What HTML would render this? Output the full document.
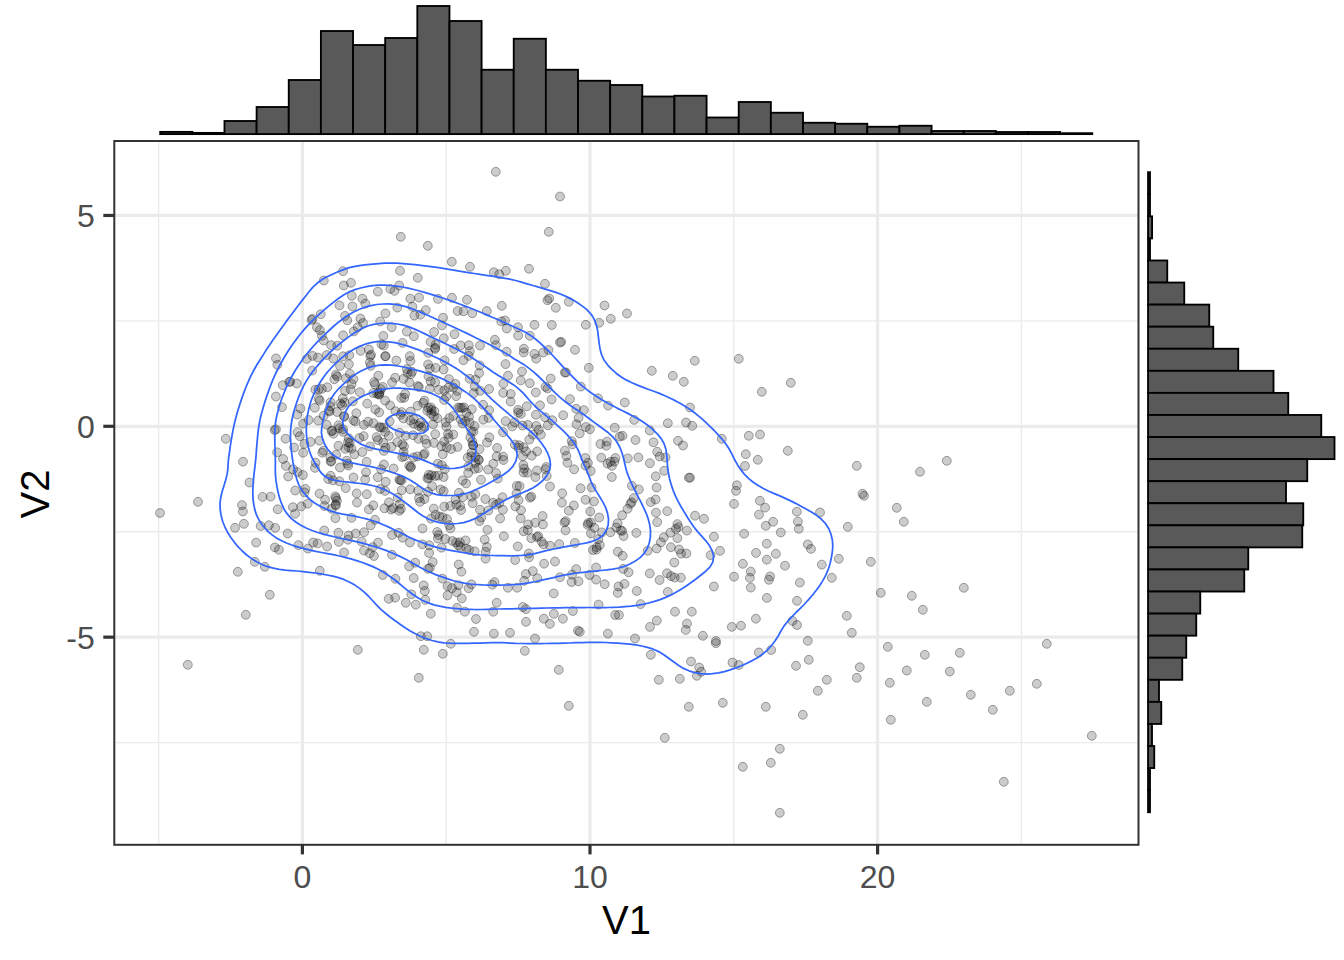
<!DOCTYPE html>
<html><head><meta charset="utf-8"><title>V1 vs V2</title>
<style>html,body{margin:0;padding:0;background:#fff}svg{display:block}text{font-family:"Liberation Sans",Arial,sans-serif}</style></head><body>
<svg width="1344" height="960" viewBox="0 0 1344 960">
<rect width="1344" height="960" fill="#fff"/>
<g stroke="#ebebeb" stroke-width="1.4" fill="none">
<line x1="158.60" x2="158.60" y1="141.0" y2="844.8"/>
<line x1="446.20" x2="446.20" y1="141.0" y2="844.8"/>
<line x1="733.80" x2="733.80" y1="141.0" y2="844.8"/>
<line x1="1021.40" x2="1021.40" y1="141.0" y2="844.8"/>
<line y1="320.88" y2="320.88" x1="114.3" x2="1138.5"/>
<line y1="531.73" y2="531.73" x1="114.3" x2="1138.5"/>
<line y1="742.58" y2="742.58" x1="114.3" x2="1138.5"/>
</g>
<g stroke="#ebebeb" stroke-width="3.2" fill="none">
<line x1="302.40" x2="302.40" y1="141.0" y2="844.8"/>
<line x1="590.00" x2="590.00" y1="141.0" y2="844.8"/>
<line x1="877.60" x2="877.60" y1="141.0" y2="844.8"/>
<line y1="215.45" y2="215.45" x1="114.3" x2="1138.5"/>
<line y1="426.30" y2="426.30" x1="114.3" x2="1138.5"/>
<line y1="637.15" y2="637.15" x1="114.3" x2="1138.5"/>
</g>
<g fill="#000" fill-opacity="0.2" stroke="#000" stroke-opacity="0.33" stroke-width="1">
<circle cx="327.1" cy="546.5" r="4.45"/>
<circle cx="590.3" cy="511.5" r="4.45"/>
<circle cx="357.7" cy="327.3" r="4.45"/>
<circle cx="383.8" cy="450.9" r="4.45"/>
<circle cx="736.0" cy="490.8" r="4.45"/>
<circle cx="473.1" cy="445.3" r="4.45"/>
<circle cx="485.6" cy="558.7" r="4.45"/>
<circle cx="304.5" cy="492.4" r="4.45"/>
<circle cx="922.8" cy="609.8" r="4.45"/>
<circle cx="671.1" cy="576.1" r="4.45"/>
<circle cx="534.4" cy="353.9" r="4.45"/>
<circle cx="362.3" cy="452.0" r="4.45"/>
<circle cx="235.0" cy="527.8" r="4.45"/>
<circle cx="475.3" cy="462.9" r="4.45"/>
<circle cx="398.6" cy="532.8" r="4.45"/>
<circle cx="335.8" cy="505.5" r="4.45"/>
<circle cx="351.5" cy="448.7" r="4.45"/>
<circle cx="713.9" cy="586.5" r="4.45"/>
<circle cx="496.7" cy="602.8" r="4.45"/>
<circle cx="324.5" cy="506.0" r="4.45"/>
<circle cx="636.8" cy="591.0" r="4.45"/>
<circle cx="368.0" cy="421.7" r="4.45"/>
<circle cx="427.2" cy="636.2" r="4.45"/>
<circle cx="562.2" cy="493.3" r="4.45"/>
<circle cx="622.1" cy="515.3" r="4.45"/>
<circle cx="458.7" cy="564.5" r="4.45"/>
<circle cx="312.6" cy="355.9" r="4.45"/>
<circle cx="469.7" cy="378.8" r="4.45"/>
<circle cx="363.7" cy="436.1" r="4.45"/>
<circle cx="364.0" cy="550.6" r="4.45"/>
<circle cx="851.8" cy="632.8" r="4.45"/>
<circle cx="797.9" cy="521.6" r="4.45"/>
<circle cx="536.9" cy="537.0" r="4.45"/>
<circle cx="1003.8" cy="781.8" r="4.45"/>
<circle cx="555.8" cy="307.8" r="4.45"/>
<circle cx="348.8" cy="438.4" r="4.45"/>
<circle cx="412.4" cy="306.7" r="4.45"/>
<circle cx="649.9" cy="463.2" r="4.45"/>
<circle cx="424.9" cy="439.4" r="4.45"/>
<circle cx="400.3" cy="480.2" r="4.45"/>
<circle cx="326.8" cy="355.0" r="4.45"/>
<circle cx="442.5" cy="517.3" r="4.45"/>
<circle cx="456.1" cy="542.5" r="4.45"/>
<circle cx="313.2" cy="542.5" r="4.45"/>
<circle cx="354.4" cy="454.4" r="4.45"/>
<circle cx="409.9" cy="542.5" r="4.45"/>
<circle cx="456.1" cy="396.2" r="4.45"/>
<circle cx="344.0" cy="416.0" r="4.45"/>
<circle cx="352.8" cy="401.3" r="4.45"/>
<circle cx="683.0" cy="445.5" r="4.45"/>
<circle cx="285.5" cy="438.7" r="4.45"/>
<circle cx="428.1" cy="364.4" r="4.45"/>
<circle cx="896.8" cy="507.8" r="4.45"/>
<circle cx="402.3" cy="444.4" r="4.45"/>
<circle cx="446.2" cy="396.6" r="4.45"/>
<circle cx="337.0" cy="412.0" r="4.45"/>
<circle cx="887.8" cy="646.8" r="4.45"/>
<circle cx="426.6" cy="443.8" r="4.45"/>
<circle cx="474.6" cy="468.9" r="4.45"/>
<circle cx="450.5" cy="528.4" r="4.45"/>
<circle cx="611.8" cy="477.0" r="4.45"/>
<circle cx="377.8" cy="291.6" r="4.45"/>
<circle cx="575.0" cy="349.8" r="4.45"/>
<circle cx="304.3" cy="443.9" r="4.45"/>
<circle cx="744.1" cy="533.7" r="4.45"/>
<circle cx="237.8" cy="571.8" r="4.45"/>
<circle cx="449.2" cy="525.1" r="4.45"/>
<circle cx="699.2" cy="667.5" r="4.45"/>
<circle cx="488.1" cy="469.6" r="4.45"/>
<circle cx="348.9" cy="364.3" r="4.45"/>
<circle cx="423.7" cy="585.4" r="4.45"/>
<circle cx="692.2" cy="425.8" r="4.45"/>
<circle cx="667.8" cy="591.9" r="4.45"/>
<circle cx="342.1" cy="405.2" r="4.45"/>
<circle cx="585.7" cy="427.0" r="4.45"/>
<circle cx="427.8" cy="245.8" r="4.45"/>
<circle cx="523.5" cy="472.4" r="4.45"/>
<circle cx="574.1" cy="469.3" r="4.45"/>
<circle cx="686.0" cy="422.5" r="4.45"/>
<circle cx="472.3" cy="313.3" r="4.45"/>
<circle cx="429.9" cy="567.9" r="4.45"/>
<circle cx="323.6" cy="415.8" r="4.45"/>
<circle cx="413.9" cy="336.2" r="4.45"/>
<circle cx="543.5" cy="544.4" r="4.45"/>
<circle cx="686.3" cy="553.5" r="4.45"/>
<circle cx="454.5" cy="334.2" r="4.45"/>
<circle cx="679.1" cy="549.5" r="4.45"/>
<circle cx="604.5" cy="305.5" r="4.45"/>
<circle cx="546.7" cy="476.0" r="4.45"/>
<circle cx="433.9" cy="416.3" r="4.45"/>
<circle cx="455.5" cy="499.5" r="4.45"/>
<circle cx="359.9" cy="392.2" r="4.45"/>
<circle cx="501.8" cy="305.8" r="4.45"/>
<circle cx="518.3" cy="447.8" r="4.45"/>
<circle cx="663.8" cy="537.3" r="4.45"/>
<circle cx="565.5" cy="530.4" r="4.45"/>
<circle cx="649.8" cy="573.4" r="4.45"/>
<circle cx="276.0" cy="429.4" r="4.45"/>
<circle cx="303.1" cy="423.6" r="4.45"/>
<circle cx="392.1" cy="535.0" r="4.45"/>
<circle cx="442.4" cy="578.6" r="4.45"/>
<circle cx="468.8" cy="345.3" r="4.45"/>
<circle cx="339.5" cy="481.3" r="4.45"/>
<circle cx="428.5" cy="376.2" r="4.45"/>
<circle cx="653.5" cy="442.3" r="4.45"/>
<circle cx="458.9" cy="492.8" r="4.45"/>
<circle cx="949.8" cy="671.5" r="4.45"/>
<circle cx="399.8" cy="504.3" r="4.45"/>
<circle cx="418.9" cy="387.0" r="4.45"/>
<circle cx="319.9" cy="330.1" r="4.45"/>
<circle cx="578.5" cy="581.3" r="4.45"/>
<circle cx="457.0" cy="607.8" r="4.45"/>
<circle cx="799.9" cy="582.6" r="4.45"/>
<circle cx="736.9" cy="485.3" r="4.45"/>
<circle cx="374.1" cy="382.1" r="4.45"/>
<circle cx="459.9" cy="542.3" r="4.45"/>
<circle cx="433.9" cy="442.9" r="4.45"/>
<circle cx="421.6" cy="427.6" r="4.45"/>
<circle cx="410.7" cy="411.5" r="4.45"/>
<circle cx="403.6" cy="451.9" r="4.45"/>
<circle cx="864.0" cy="495.8" r="4.45"/>
<circle cx="585.3" cy="458.0" r="4.45"/>
<circle cx="401.3" cy="398.0" r="4.45"/>
<circle cx="360.6" cy="350.9" r="4.45"/>
<circle cx="523.3" cy="465.1" r="4.45"/>
<circle cx="318.2" cy="420.6" r="4.45"/>
<circle cx="468.7" cy="355.9" r="4.45"/>
<circle cx="299.8" cy="436.2" r="4.45"/>
<circle cx="496.7" cy="456.3" r="4.45"/>
<circle cx="493.8" cy="272.2" r="4.45"/>
<circle cx="373.3" cy="393.1" r="4.45"/>
<circle cx="425.8" cy="310.1" r="4.45"/>
<circle cx="859.8" cy="667.2" r="4.45"/>
<circle cx="474.8" cy="386.5" r="4.45"/>
<circle cx="578.0" cy="630.6" r="4.45"/>
<circle cx="503.2" cy="392.9" r="4.45"/>
<circle cx="437.2" cy="532.0" r="4.45"/>
<circle cx="731.8" cy="626.9" r="4.45"/>
<circle cx="423.8" cy="649.8" r="4.45"/>
<circle cx="797.0" cy="625.0" r="4.45"/>
<circle cx="373.4" cy="423.2" r="4.45"/>
<circle cx="559.2" cy="544.1" r="4.45"/>
<circle cx="678.0" cy="440.8" r="4.45"/>
<circle cx="478.9" cy="460.0" r="4.45"/>
<circle cx="529.8" cy="383.2" r="4.45"/>
<circle cx="550.0" cy="545.7" r="4.45"/>
<circle cx="409.8" cy="356.1" r="4.45"/>
<circle cx="526.0" cy="621.8" r="4.45"/>
<circle cx="553.9" cy="613.9" r="4.45"/>
<circle cx="590.9" cy="522.6" r="4.45"/>
<circle cx="529.9" cy="497.7" r="4.45"/>
<circle cx="672.8" cy="375.8" r="4.45"/>
<circle cx="435.6" cy="514.8" r="4.45"/>
<circle cx="926.8" cy="701.8" r="4.45"/>
<circle cx="368.9" cy="509.4" r="4.45"/>
<circle cx="471.8" cy="409.3" r="4.45"/>
<circle cx="807.8" cy="544.4" r="4.45"/>
<circle cx="489.4" cy="437.3" r="4.45"/>
<circle cx="924.8" cy="654.8" r="4.45"/>
<circle cx="410.3" cy="298.7" r="4.45"/>
<circle cx="677.4" cy="538.1" r="4.45"/>
<circle cx="607.5" cy="463.6" r="4.45"/>
<circle cx="481.2" cy="517.6" r="4.45"/>
<circle cx="761.8" cy="391.8" r="4.45"/>
<circle cx="523.7" cy="352.4" r="4.45"/>
<circle cx="323.4" cy="450.7" r="4.45"/>
<circle cx="460.2" cy="505.9" r="4.45"/>
<circle cx="333.5" cy="433.7" r="4.45"/>
<circle cx="323.8" cy="280.5" r="4.45"/>
<circle cx="430.8" cy="613.7" r="4.45"/>
<circle cx="518.6" cy="500.2" r="4.45"/>
<circle cx="379.7" cy="392.5" r="4.45"/>
<circle cx="503.4" cy="460.0" r="4.45"/>
<circle cx="325.1" cy="499.7" r="4.45"/>
<circle cx="576.5" cy="424.3" r="4.45"/>
<circle cx="748.8" cy="435.8" r="4.45"/>
<circle cx="434.1" cy="332.0" r="4.45"/>
<circle cx="702.9" cy="635.8" r="4.45"/>
<circle cx="545.0" cy="283.8" r="4.45"/>
<circle cx="425.3" cy="599.9" r="4.45"/>
<circle cx="572.5" cy="444.4" r="4.45"/>
<circle cx="821.8" cy="564.6" r="4.45"/>
<circle cx="380.2" cy="489.0" r="4.45"/>
<circle cx="333.1" cy="480.4" r="4.45"/>
<circle cx="351.8" cy="295.8" r="4.45"/>
<circle cx="323.7" cy="340.5" r="4.45"/>
<circle cx="650.8" cy="654.8" r="4.45"/>
<circle cx="344.1" cy="552.4" r="4.45"/>
<circle cx="545.6" cy="469.1" r="4.45"/>
<circle cx="428.3" cy="408.0" r="4.45"/>
<circle cx="417.4" cy="456.4" r="4.45"/>
<circle cx="970.8" cy="694.8" r="4.45"/>
<circle cx="742.8" cy="766.8" r="4.45"/>
<circle cx="522.0" cy="371.5" r="4.45"/>
<circle cx="242.9" cy="511.5" r="4.45"/>
<circle cx="409.2" cy="465.9" r="4.45"/>
<circle cx="328.8" cy="410.6" r="4.45"/>
<circle cx="523.9" cy="348.7" r="4.45"/>
<circle cx="336.9" cy="500.8" r="4.45"/>
<circle cx="715.9" cy="643.2" r="4.45"/>
<circle cx="420.0" cy="423.0" r="4.45"/>
<circle cx="820.0" cy="512.5" r="4.45"/>
<circle cx="690.1" cy="477.7" r="4.45"/>
<circle cx="505.6" cy="421.1" r="4.45"/>
<circle cx="623.1" cy="568.9" r="4.45"/>
<circle cx="431.6" cy="409.9" r="4.45"/>
<circle cx="343.0" cy="429.3" r="4.45"/>
<circle cx="460.7" cy="419.4" r="4.45"/>
<circle cx="561.9" cy="502.7" r="4.45"/>
<circle cx="606.3" cy="445.7" r="4.45"/>
<circle cx="463.5" cy="311.3" r="4.45"/>
<circle cx="403.5" cy="378.9" r="4.45"/>
<circle cx="678.4" cy="527.1" r="4.45"/>
<circle cx="438.2" cy="475.6" r="4.45"/>
<circle cx="588.3" cy="523.0" r="4.45"/>
<circle cx="537.3" cy="578.3" r="4.45"/>
<circle cx="294.1" cy="447.5" r="4.45"/>
<circle cx="667.2" cy="511.1" r="4.45"/>
<circle cx="349.7" cy="443.0" r="4.45"/>
<circle cx="460.7" cy="345.4" r="4.45"/>
<circle cx="452.4" cy="541.0" r="4.45"/>
<circle cx="225.8" cy="438.8" r="4.45"/>
<circle cx="665.5" cy="457.5" r="4.45"/>
<circle cx="357.8" cy="649.8" r="4.45"/>
<circle cx="479.1" cy="373.1" r="4.45"/>
<circle cx="315.3" cy="389.7" r="4.45"/>
<circle cx="506.8" cy="328.5" r="4.45"/>
<circle cx="563.2" cy="415.2" r="4.45"/>
<circle cx="365.3" cy="303.7" r="4.45"/>
<circle cx="518.0" cy="327.2" r="4.45"/>
<circle cx="391.4" cy="446.8" r="4.45"/>
<circle cx="260.7" cy="526.0" r="4.45"/>
<circle cx="518.3" cy="412.6" r="4.45"/>
<circle cx="412.0" cy="371.8" r="4.45"/>
<circle cx="617.6" cy="523.3" r="4.45"/>
<circle cx="527.8" cy="530.0" r="4.45"/>
<circle cx="392.1" cy="382.3" r="4.45"/>
<circle cx="297.2" cy="414.6" r="4.45"/>
<circle cx="674.3" cy="562.5" r="4.45"/>
<circle cx="367.2" cy="403.6" r="4.45"/>
<circle cx="441.5" cy="547.7" r="4.45"/>
<circle cx="670.3" cy="532.7" r="4.45"/>
<circle cx="402.6" cy="537.7" r="4.45"/>
<circle cx="593.0" cy="550.0" r="4.45"/>
<circle cx="807.8" cy="640.8" r="4.45"/>
<circle cx="318.6" cy="389.4" r="4.45"/>
<circle cx="615.2" cy="615.0" r="4.45"/>
<circle cx="456.3" cy="504.7" r="4.45"/>
<circle cx="292.9" cy="507.2" r="4.45"/>
<circle cx="469.7" cy="422.6" r="4.45"/>
<circle cx="579.8" cy="631.8" r="4.45"/>
<circle cx="657.2" cy="451.8" r="4.45"/>
<circle cx="339.4" cy="428.1" r="4.45"/>
<circle cx="543.2" cy="352.5" r="4.45"/>
<circle cx="345.0" cy="315.9" r="4.45"/>
<circle cx="450.4" cy="506.0" r="4.45"/>
<circle cx="406.8" cy="331.6" r="4.45"/>
<circle cx="431.4" cy="475.2" r="4.45"/>
<circle cx="633.8" cy="498.1" r="4.45"/>
<circle cx="568.8" cy="510.7" r="4.45"/>
<circle cx="579.7" cy="433.5" r="4.45"/>
<circle cx="460.5" cy="547.0" r="4.45"/>
<circle cx="528.1" cy="524.4" r="4.45"/>
<circle cx="667.0" cy="573.3" r="4.45"/>
<circle cx="549.9" cy="623.9" r="4.45"/>
<circle cx="428.0" cy="491.8" r="4.45"/>
<circle cx="756.0" cy="552.9" r="4.45"/>
<circle cx="466.2" cy="548.5" r="4.45"/>
<circle cx="495.8" cy="171.8" r="4.45"/>
<circle cx="600.4" cy="444.0" r="4.45"/>
<circle cx="378.3" cy="375.7" r="4.45"/>
<circle cx="363.0" cy="323.0" r="4.45"/>
<circle cx="720.0" cy="550.8" r="4.45"/>
<circle cx="363.9" cy="424.9" r="4.45"/>
<circle cx="514.8" cy="422.3" r="4.45"/>
<circle cx="330.6" cy="402.3" r="4.45"/>
<circle cx="496.1" cy="473.0" r="4.45"/>
<circle cx="992.8" cy="709.8" r="4.45"/>
<circle cx="571.6" cy="582.0" r="4.45"/>
<circle cx="636.3" cy="532.9" r="4.45"/>
<circle cx="470.0" cy="266.8" r="4.45"/>
<circle cx="383.9" cy="464.5" r="4.45"/>
<circle cx="366.6" cy="461.8" r="4.45"/>
<circle cx="1046.8" cy="643.8" r="4.45"/>
<circle cx="537.0" cy="470.5" r="4.45"/>
<circle cx="448.4" cy="387.6" r="4.45"/>
<circle cx="350.6" cy="389.4" r="4.45"/>
<circle cx="564.9" cy="450.6" r="4.45"/>
<circle cx="889.8" cy="682.8" r="4.45"/>
<circle cx="796.9" cy="511.7" r="4.45"/>
<circle cx="488.6" cy="417.9" r="4.45"/>
<circle cx="572.9" cy="611.0" r="4.45"/>
<circle cx="338.5" cy="425.3" r="4.45"/>
<circle cx="330.7" cy="475.8" r="4.45"/>
<circle cx="420.0" cy="501.9" r="4.45"/>
<circle cx="353.4" cy="379.1" r="4.45"/>
<circle cx="458.2" cy="545.3" r="4.45"/>
<circle cx="548.5" cy="350.0" r="4.45"/>
<circle cx="567.4" cy="462.8" r="4.45"/>
<circle cx="462.0" cy="407.9" r="4.45"/>
<circle cx="558.8" cy="669.8" r="4.45"/>
<circle cx="649.8" cy="430.5" r="4.45"/>
<circle cx="378.9" cy="394.0" r="4.45"/>
<circle cx="527.2" cy="472.7" r="4.45"/>
<circle cx="546.3" cy="467.0" r="4.45"/>
<circle cx="547.5" cy="300.2" r="4.45"/>
<circle cx="610.8" cy="318.8" r="4.45"/>
<circle cx="503.8" cy="536.2" r="4.45"/>
<circle cx="308.6" cy="420.0" r="4.45"/>
<circle cx="566.4" cy="456.0" r="4.45"/>
<circle cx="342.8" cy="398.3" r="4.45"/>
<circle cx="245.8" cy="614.8" r="4.45"/>
<circle cx="560.0" cy="577.2" r="4.45"/>
<circle cx="520.7" cy="380.4" r="4.45"/>
<circle cx="353.5" cy="420.4" r="4.45"/>
<circle cx="551.8" cy="325.0" r="4.45"/>
<circle cx="667.8" cy="423.2" r="4.45"/>
<circle cx="243.0" cy="461.7" r="4.45"/>
<circle cx="429.3" cy="545.3" r="4.45"/>
<circle cx="734.0" cy="503.9" r="4.45"/>
<circle cx="470.3" cy="437.4" r="4.45"/>
<circle cx="349.3" cy="355.2" r="4.45"/>
<circle cx="458.1" cy="407.6" r="4.45"/>
<circle cx="856.8" cy="677.8" r="4.45"/>
<circle cx="450.8" cy="643.8" r="4.45"/>
<circle cx="453.2" cy="434.5" r="4.45"/>
<circle cx="410.4" cy="361.0" r="4.45"/>
<circle cx="383.4" cy="427.7" r="4.45"/>
<circle cx="521.0" cy="510.2" r="4.45"/>
<circle cx="415.8" cy="604.7" r="4.45"/>
<circle cx="438.8" cy="389.8" r="4.45"/>
<circle cx="379.2" cy="412.4" r="4.45"/>
<circle cx="616.3" cy="527.5" r="4.45"/>
<circle cx="687.0" cy="623.6" r="4.45"/>
<circle cx="429.1" cy="553.0" r="4.45"/>
<circle cx="656.7" cy="548.5" r="4.45"/>
<circle cx="330.7" cy="461.7" r="4.45"/>
<circle cx="445.3" cy="539.0" r="4.45"/>
<circle cx="277.7" cy="509.3" r="4.45"/>
<circle cx="540.9" cy="434.7" r="4.45"/>
<circle cx="346.7" cy="460.7" r="4.45"/>
<circle cx="808.8" cy="659.8" r="4.45"/>
<circle cx="385.6" cy="356.2" r="4.45"/>
<circle cx="560.0" cy="342.5" r="4.45"/>
<circle cx="447.5" cy="586.2" r="4.45"/>
<circle cx="457.7" cy="311.0" r="4.45"/>
<circle cx="385.1" cy="490.9" r="4.45"/>
<circle cx="383.8" cy="345.5" r="4.45"/>
<circle cx="467.7" cy="457.6" r="4.45"/>
<circle cx="297.5" cy="432.2" r="4.45"/>
<circle cx="685.8" cy="629.9" r="4.45"/>
<circle cx="543.8" cy="618.7" r="4.45"/>
<circle cx="428.2" cy="352.9" r="4.45"/>
<circle cx="741.0" cy="625.7" r="4.45"/>
<circle cx="638.4" cy="457.4" r="4.45"/>
<circle cx="580.8" cy="386.6" r="4.45"/>
<circle cx="452.0" cy="588.1" r="4.45"/>
<circle cx="430.6" cy="341.9" r="4.45"/>
<circle cx="502.5" cy="497.2" r="4.45"/>
<circle cx="302.9" cy="475.0" r="4.45"/>
<circle cx="460.0" cy="407.7" r="4.45"/>
<circle cx="679.8" cy="678.8" r="4.45"/>
<circle cx="489.1" cy="410.2" r="4.45"/>
<circle cx="656.8" cy="620.6" r="4.45"/>
<circle cx="541.6" cy="541.6" r="4.45"/>
<circle cx="348.3" cy="465.6" r="4.45"/>
<circle cx="533.0" cy="434.6" r="4.45"/>
<circle cx="826.8" cy="679.8" r="4.45"/>
<circle cx="831.8" cy="577.8" r="4.45"/>
<circle cx="343.1" cy="356.3" r="4.45"/>
<circle cx="347.9" cy="539.7" r="4.45"/>
<circle cx="627.6" cy="508.8" r="4.45"/>
<circle cx="382.7" cy="386.9" r="4.45"/>
<circle cx="722.8" cy="702.8" r="4.45"/>
<circle cx="474.7" cy="551.3" r="4.45"/>
<circle cx="353.8" cy="331.4" r="4.45"/>
<circle cx="439.6" cy="516.6" r="4.45"/>
<circle cx="392.0" cy="554.8" r="4.45"/>
<circle cx="249.4" cy="482.5" r="4.45"/>
<circle cx="274.9" cy="547.4" r="4.45"/>
<circle cx="492.3" cy="584.7" r="4.45"/>
<circle cx="480.1" cy="390.8" r="4.45"/>
<circle cx="701.2" cy="671.8" r="4.45"/>
<circle cx="635.0" cy="638.5" r="4.45"/>
<circle cx="427.4" cy="478.4" r="4.45"/>
<circle cx="659.7" cy="456.5" r="4.45"/>
<circle cx="419.0" cy="498.0" r="4.45"/>
<circle cx="580.6" cy="488.3" r="4.45"/>
<circle cx="301.3" cy="506.4" r="4.45"/>
<circle cx="423.2" cy="402.9" r="4.45"/>
<circle cx="564.8" cy="372.5" r="4.45"/>
<circle cx="506.7" cy="351.7" r="4.45"/>
<circle cx="448.9" cy="379.1" r="4.45"/>
<circle cx="371.0" cy="354.7" r="4.45"/>
<circle cx="402.6" cy="342.9" r="4.45"/>
<circle cx="631.6" cy="502.2" r="4.45"/>
<circle cx="765.1" cy="507.6" r="4.45"/>
<circle cx="397.7" cy="497.7" r="4.45"/>
<circle cx="336.0" cy="498.3" r="4.45"/>
<circle cx="444.1" cy="441.6" r="4.45"/>
<circle cx="300.5" cy="408.6" r="4.45"/>
<circle cx="347.3" cy="320.3" r="4.45"/>
<circle cx="631.9" cy="485.8" r="4.45"/>
<circle cx="486.8" cy="311.0" r="4.45"/>
<circle cx="351.0" cy="282.8" r="4.45"/>
<circle cx="430.7" cy="381.4" r="4.45"/>
<circle cx="336.2" cy="454.7" r="4.45"/>
<circle cx="598.4" cy="539.2" r="4.45"/>
<circle cx="464.0" cy="407.4" r="4.45"/>
<circle cx="479.7" cy="365.4" r="4.45"/>
<circle cx="657.2" cy="522.1" r="4.45"/>
<circle cx="385.5" cy="447.7" r="4.45"/>
<circle cx="501.3" cy="321.4" r="4.45"/>
<circle cx="779.8" cy="812.8" r="4.45"/>
<circle cx="400.8" cy="236.8" r="4.45"/>
<circle cx="444.1" cy="399.9" r="4.45"/>
<circle cx="452.0" cy="297.8" r="4.45"/>
<circle cx="880.8" cy="592.8" r="4.45"/>
<circle cx="610.5" cy="461.8" r="4.45"/>
<circle cx="617.8" cy="551.7" r="4.45"/>
<circle cx="410.6" cy="467.6" r="4.45"/>
<circle cx="437.8" cy="463.7" r="4.45"/>
<circle cx="297.4" cy="472.1" r="4.45"/>
<circle cx="624.8" cy="402.5" r="4.45"/>
<circle cx="500.1" cy="518.5" r="4.45"/>
<circle cx="375.0" cy="519.8" r="4.45"/>
<circle cx="404.2" cy="397.8" r="4.45"/>
<circle cx="596.6" cy="547.2" r="4.45"/>
<circle cx="443.6" cy="477.0" r="4.45"/>
<circle cx="802.8" cy="714.8" r="4.45"/>
<circle cx="528.8" cy="553.5" r="4.45"/>
<circle cx="479.5" cy="521.1" r="4.45"/>
<circle cx="488.3" cy="510.5" r="4.45"/>
<circle cx="331.7" cy="508.9" r="4.45"/>
<circle cx="424.8" cy="591.0" r="4.45"/>
<circle cx="480.0" cy="345.6" r="4.45"/>
<circle cx="773.1" cy="521.8" r="4.45"/>
<circle cx="463.5" cy="360.2" r="4.45"/>
<circle cx="517.8" cy="546.4" r="4.45"/>
<circle cx="441.4" cy="446.2" r="4.45"/>
<circle cx="599.8" cy="545.1" r="4.45"/>
<circle cx="587.6" cy="524.8" r="4.45"/>
<circle cx="779.8" cy="748.8" r="4.45"/>
<circle cx="331.3" cy="461.1" r="4.45"/>
<circle cx="390.1" cy="405.4" r="4.45"/>
<circle cx="755.9" cy="618.7" r="4.45"/>
<circle cx="630.4" cy="503.9" r="4.45"/>
<circle cx="536.2" cy="425.9" r="4.45"/>
<circle cx="576.2" cy="408.8" r="4.45"/>
<circle cx="395.4" cy="411.2" r="4.45"/>
<circle cx="555.0" cy="561.5" r="4.45"/>
<circle cx="343.1" cy="335.3" r="4.45"/>
<circle cx="522.7" cy="456.3" r="4.45"/>
<circle cx="383.4" cy="335.9" r="4.45"/>
<circle cx="366.0" cy="472.2" r="4.45"/>
<circle cx="594.4" cy="527.8" r="4.45"/>
<circle cx="335.3" cy="496.4" r="4.45"/>
<circle cx="656.0" cy="512.6" r="4.45"/>
<circle cx="920.0" cy="471.8" r="4.45"/>
<circle cx="547.5" cy="388.4" r="4.45"/>
<circle cx="561.2" cy="341.8" r="4.45"/>
<circle cx="534.5" cy="324.8" r="4.45"/>
<circle cx="290.3" cy="381.6" r="4.45"/>
<circle cx="424.4" cy="400.7" r="4.45"/>
<circle cx="502.9" cy="509.8" r="4.45"/>
<circle cx="516.8" cy="485.9" r="4.45"/>
<circle cx="696.8" cy="675.8" r="4.45"/>
<circle cx="351.5" cy="517.9" r="4.45"/>
<circle cx="395.4" cy="578.8" r="4.45"/>
<circle cx="242.0" cy="505.1" r="4.45"/>
<circle cx="413.1" cy="435.2" r="4.45"/>
<circle cx="385.1" cy="431.9" r="4.45"/>
<circle cx="596.1" cy="567.5" r="4.45"/>
<circle cx="475.5" cy="379.6" r="4.45"/>
<circle cx="401.7" cy="412.1" r="4.45"/>
<circle cx="451.1" cy="449.0" r="4.45"/>
<circle cx="520.8" cy="413.9" r="4.45"/>
<circle cx="296.8" cy="383.5" r="4.45"/>
<circle cx="348.6" cy="535.5" r="4.45"/>
<circle cx="531.3" cy="496.6" r="4.45"/>
<circle cx="535.9" cy="414.8" r="4.45"/>
<circle cx="410.2" cy="420.6" r="4.45"/>
<circle cx="307.9" cy="548.6" r="4.45"/>
<circle cx="527.9" cy="424.9" r="4.45"/>
<circle cx="599.2" cy="322.8" r="4.45"/>
<circle cx="589.9" cy="429.2" r="4.45"/>
<circle cx="640.6" cy="604.1" r="4.45"/>
<circle cx="638.8" cy="489.4" r="4.45"/>
<circle cx="413.7" cy="419.2" r="4.45"/>
<circle cx="484.7" cy="539.6" r="4.45"/>
<circle cx="483.1" cy="404.8" r="4.45"/>
<circle cx="622.7" cy="555.8" r="4.45"/>
<circle cx="526.1" cy="451.5" r="4.45"/>
<circle cx="333.3" cy="358.5" r="4.45"/>
<circle cx="287.7" cy="533.5" r="4.45"/>
<circle cx="385.1" cy="400.6" r="4.45"/>
<circle cx="441.9" cy="325.4" r="4.45"/>
<circle cx="380.8" cy="389.1" r="4.45"/>
<circle cx="959.8" cy="652.8" r="4.45"/>
<circle cx="243.9" cy="523.8" r="4.45"/>
<circle cx="576.2" cy="569.1" r="4.45"/>
<circle cx="481.0" cy="479.8" r="4.45"/>
<circle cx="356.3" cy="413.2" r="4.45"/>
<circle cx="474.5" cy="426.0" r="4.45"/>
<circle cx="472.7" cy="503.2" r="4.45"/>
<circle cx="535.8" cy="392.4" r="4.45"/>
<circle cx="547.8" cy="425.3" r="4.45"/>
<circle cx="523.7" cy="531.3" r="4.45"/>
<circle cx="305.4" cy="488.9" r="4.45"/>
<circle cx="343.1" cy="431.8" r="4.45"/>
<circle cx="414.4" cy="315.5" r="4.45"/>
<circle cx="529.3" cy="439.6" r="4.45"/>
<circle cx="545.1" cy="417.3" r="4.45"/>
<circle cx="449.3" cy="418.1" r="4.45"/>
<circle cx="483.3" cy="419.7" r="4.45"/>
<circle cx="256.1" cy="542.6" r="4.45"/>
<circle cx="303.1" cy="452.7" r="4.45"/>
<circle cx="388.8" cy="435.9" r="4.45"/>
<circle cx="410.9" cy="374.2" r="4.45"/>
<circle cx="647.7" cy="550.8" r="4.45"/>
<circle cx="322.3" cy="452.7" r="4.45"/>
<circle cx="544.1" cy="563.7" r="4.45"/>
<circle cx="568.8" cy="705.8" r="4.45"/>
<circle cx="614.4" cy="461.6" r="4.45"/>
<circle cx="315.0" cy="467.9" r="4.45"/>
<circle cx="480.0" cy="509.8" r="4.45"/>
<circle cx="319.5" cy="493.6" r="4.45"/>
<circle cx="438.0" cy="298.9" r="4.45"/>
<circle cx="683.8" cy="381.8" r="4.45"/>
<circle cx="440.6" cy="489.5" r="4.45"/>
<circle cx="419.0" cy="297.5" r="4.45"/>
<circle cx="738.8" cy="665.0" r="4.45"/>
<circle cx="254.8" cy="561.8" r="4.45"/>
<circle cx="289.3" cy="382.0" r="4.45"/>
<circle cx="311.6" cy="320.0" r="4.45"/>
<circle cx="686.9" cy="530.6" r="4.45"/>
<circle cx="606.9" cy="441.6" r="4.45"/>
<circle cx="675.0" cy="611.7" r="4.45"/>
<circle cx="401.6" cy="480.3" r="4.45"/>
<circle cx="870.8" cy="561.8" r="4.45"/>
<circle cx="624.5" cy="583.9" r="4.45"/>
<circle cx="428.8" cy="474.8" r="4.45"/>
<circle cx="372.6" cy="547.1" r="4.45"/>
<circle cx="680.9" cy="577.7" r="4.45"/>
<circle cx="771.2" cy="650.0" r="4.45"/>
<circle cx="510.7" cy="394.0" r="4.45"/>
<circle cx="758.8" cy="652.5" r="4.45"/>
<circle cx="485.6" cy="551.8" r="4.45"/>
<circle cx="357.0" cy="502.6" r="4.45"/>
<circle cx="407.6" cy="373.0" r="4.45"/>
<circle cx="339.5" cy="305.4" r="4.45"/>
<circle cx="792.5" cy="620.9" r="4.45"/>
<circle cx="368.9" cy="349.5" r="4.45"/>
<circle cx="471.3" cy="456.2" r="4.45"/>
<circle cx="468.6" cy="588.2" r="4.45"/>
<circle cx="618.9" cy="615.0" r="4.45"/>
<circle cx="443.0" cy="317.7" r="4.45"/>
<circle cx="395.2" cy="377.7" r="4.45"/>
<circle cx="438.7" cy="535.0" r="4.45"/>
<circle cx="601.3" cy="457.6" r="4.45"/>
<circle cx="695.0" cy="515.7" r="4.45"/>
<circle cx="380.2" cy="321.5" r="4.45"/>
<circle cx="343.8" cy="285.5" r="4.45"/>
<circle cx="551.6" cy="399.5" r="4.45"/>
<circle cx="443.6" cy="369.5" r="4.45"/>
<circle cx="1036.8" cy="683.8" r="4.45"/>
<circle cx="526.0" cy="609.1" r="4.45"/>
<circle cx="318.7" cy="398.9" r="4.45"/>
<circle cx="396.3" cy="360.5" r="4.45"/>
<circle cx="566.0" cy="372.5" r="4.45"/>
<circle cx="447.5" cy="595.4" r="4.45"/>
<circle cx="444.6" cy="360.4" r="4.45"/>
<circle cx="620.7" cy="530.5" r="4.45"/>
<circle cx="529.0" cy="268.8" r="4.45"/>
<circle cx="787.8" cy="450.8" r="4.45"/>
<circle cx="448.6" cy="437.8" r="4.45"/>
<circle cx="494.5" cy="582.1" r="4.45"/>
<circle cx="759.0" cy="514.6" r="4.45"/>
<circle cx="469.0" cy="549.9" r="4.45"/>
<circle cx="435.7" cy="367.9" r="4.45"/>
<circle cx="332.3" cy="430.8" r="4.45"/>
<circle cx="466.0" cy="483.5" r="4.45"/>
<circle cx="503.1" cy="456.6" r="4.45"/>
<circle cx="585.5" cy="499.8" r="4.45"/>
<circle cx="277.1" cy="452.3" r="4.45"/>
<circle cx="471.6" cy="496.8" r="4.45"/>
<circle cx="417.6" cy="405.8" r="4.45"/>
<circle cx="319.8" cy="570.8" r="4.45"/>
<circle cx="585.5" cy="465.7" r="4.45"/>
<circle cx="390.3" cy="288.9" r="4.45"/>
<circle cx="604.7" cy="584.2" r="4.45"/>
<circle cx="356.7" cy="493.4" r="4.45"/>
<circle cx="399.2" cy="285.5" r="4.45"/>
<circle cx="405.8" cy="602.8" r="4.45"/>
<circle cx="507.9" cy="587.7" r="4.45"/>
<circle cx="362.4" cy="298.7" r="4.45"/>
<circle cx="493.1" cy="502.7" r="4.45"/>
<circle cx="617.8" cy="592.9" r="4.45"/>
<circle cx="475.5" cy="457.0" r="4.45"/>
<circle cx="520.7" cy="518.4" r="4.45"/>
<circle cx="393.2" cy="508.1" r="4.45"/>
<circle cx="335.6" cy="504.5" r="4.45"/>
<circle cx="364.1" cy="532.2" r="4.45"/>
<circle cx="479.4" cy="449.1" r="4.45"/>
<circle cx="911.8" cy="595.8" r="4.45"/>
<circle cx="486.8" cy="547.0" r="4.45"/>
<circle cx="391.7" cy="327.2" r="4.45"/>
<circle cx="583.8" cy="410.1" r="4.45"/>
<circle cx="589.5" cy="575.0" r="4.45"/>
<circle cx="340.0" cy="467.5" r="4.45"/>
<circle cx="359.4" cy="438.0" r="4.45"/>
<circle cx="306.8" cy="358.9" r="4.45"/>
<circle cx="535.2" cy="522.7" r="4.45"/>
<circle cx="331.1" cy="345.2" r="4.45"/>
<circle cx="688.8" cy="706.8" r="4.45"/>
<circle cx="383.3" cy="442.7" r="4.45"/>
<circle cx="742.9" cy="563.8" r="4.45"/>
<circle cx="433.8" cy="508.6" r="4.45"/>
<circle cx="397.3" cy="442.1" r="4.45"/>
<circle cx="611.9" cy="465.9" r="4.45"/>
<circle cx="385.7" cy="481.8" r="4.45"/>
<circle cx="670.9" cy="547.2" r="4.45"/>
<circle cx="417.8" cy="277.8" r="4.45"/>
<circle cx="327.3" cy="387.3" r="4.45"/>
<circle cx="664.2" cy="470.8" r="4.45"/>
<circle cx="277.4" cy="364.8" r="4.45"/>
<circle cx="508.0" cy="375.7" r="4.45"/>
<circle cx="524.8" cy="650.8" r="4.45"/>
<circle cx="340.3" cy="403.5" r="4.45"/>
<circle cx="847.8" cy="526.8" r="4.45"/>
<circle cx="295.2" cy="490.5" r="4.45"/>
<circle cx="478.2" cy="468.1" r="4.45"/>
<circle cx="391.1" cy="509.6" r="4.45"/>
<circle cx="424.7" cy="453.4" r="4.45"/>
<circle cx="393.6" cy="468.5" r="4.45"/>
<circle cx="389.6" cy="421.3" r="4.45"/>
<circle cx="487.0" cy="442.6" r="4.45"/>
<circle cx="328.2" cy="479.0" r="4.45"/>
<circle cx="518.1" cy="335.6" r="4.45"/>
<circle cx="519.6" cy="486.1" r="4.45"/>
<circle cx="336.0" cy="374.6" r="4.45"/>
<circle cx="349.9" cy="373.9" r="4.45"/>
<circle cx="444.3" cy="390.3" r="4.45"/>
<circle cx="656.6" cy="487.5" r="4.45"/>
<circle cx="389.0" cy="502.3" r="4.45"/>
<circle cx="447.0" cy="519.1" r="4.45"/>
<circle cx="409.1" cy="566.3" r="4.45"/>
<circle cx="321.9" cy="335.8" r="4.45"/>
<circle cx="458.4" cy="585.2" r="4.45"/>
<circle cx="601.9" cy="532.4" r="4.45"/>
<circle cx="464.9" cy="611.7" r="4.45"/>
<circle cx="474.0" cy="631.8" r="4.45"/>
<circle cx="312.5" cy="318.8" r="4.45"/>
<circle cx="765.8" cy="706.8" r="4.45"/>
<circle cx="838.8" cy="558.8" r="4.45"/>
<circle cx="1009.8" cy="690.8" r="4.45"/>
<circle cx="750.8" cy="587.6" r="4.45"/>
<circle cx="552.3" cy="420.2" r="4.45"/>
<circle cx="525.9" cy="574.0" r="4.45"/>
<circle cx="578.6" cy="417.9" r="4.45"/>
<circle cx="307.7" cy="503.7" r="4.45"/>
<circle cx="310.6" cy="441.9" r="4.45"/>
<circle cx="674.7" cy="577.6" r="4.45"/>
<circle cx="187.8" cy="664.8" r="4.45"/>
<circle cx="517.2" cy="587.7" r="4.45"/>
<circle cx="780.8" cy="532.5" r="4.45"/>
<circle cx="430.8" cy="407.4" r="4.45"/>
<circle cx="351.6" cy="384.0" r="4.45"/>
<circle cx="529.8" cy="335.8" r="4.45"/>
<circle cx="377.9" cy="440.1" r="4.45"/>
<circle cx="505.5" cy="364.1" r="4.45"/>
<circle cx="596.6" cy="549.6" r="4.45"/>
<circle cx="278.9" cy="549.7" r="4.45"/>
<circle cx="424.5" cy="499.0" r="4.45"/>
<circle cx="435.1" cy="347.8" r="4.45"/>
<circle cx="330.3" cy="406.3" r="4.45"/>
<circle cx="514.8" cy="444.6" r="4.45"/>
<circle cx="454.2" cy="349.0" r="4.45"/>
<circle cx="531.3" cy="538.2" r="4.45"/>
<circle cx="660.9" cy="542.3" r="4.45"/>
<circle cx="515.3" cy="506.4" r="4.45"/>
<circle cx="432.7" cy="562.0" r="4.45"/>
<circle cx="618.5" cy="586.5" r="4.45"/>
<circle cx="444.9" cy="469.2" r="4.45"/>
<circle cx="420.8" cy="636.2" r="4.45"/>
<circle cx="413.9" cy="423.9" r="4.45"/>
<circle cx="715.9" cy="641.0" r="4.45"/>
<circle cx="524.2" cy="580.8" r="4.45"/>
<circle cx="596.1" cy="579.6" r="4.45"/>
<circle cx="413.5" cy="457.4" r="4.45"/>
<circle cx="573.9" cy="505.4" r="4.45"/>
<circle cx="442.8" cy="653.8" r="4.45"/>
<circle cx="345.0" cy="390.9" r="4.45"/>
<circle cx="688.9" cy="477.7" r="4.45"/>
<circle cx="453.3" cy="387.4" r="4.45"/>
<circle cx="524.1" cy="468.7" r="4.45"/>
<circle cx="453.3" cy="415.9" r="4.45"/>
<circle cx="627.8" cy="458.4" r="4.45"/>
<circle cx="510.0" cy="632.8" r="4.45"/>
<circle cx="274.6" cy="430.0" r="4.45"/>
<circle cx="542.9" cy="524.5" r="4.45"/>
<circle cx="713.9" cy="536.7" r="4.45"/>
<circle cx="472.3" cy="441.6" r="4.45"/>
<circle cx="903.8" cy="521.8" r="4.45"/>
<circle cx="564.5" cy="522.4" r="4.45"/>
<circle cx="499.2" cy="274.2" r="4.45"/>
<circle cx="505.0" cy="320.5" r="4.45"/>
<circle cx="360.4" cy="318.5" r="4.45"/>
<circle cx="370.0" cy="446.4" r="4.45"/>
<circle cx="515.1" cy="560.0" r="4.45"/>
<circle cx="382.8" cy="575.0" r="4.45"/>
<circle cx="550.0" cy="486.5" r="4.45"/>
<circle cx="406.8" cy="369.1" r="4.45"/>
<circle cx="658.8" cy="679.8" r="4.45"/>
<circle cx="599.2" cy="517.5" r="4.45"/>
<circle cx="369.9" cy="362.4" r="4.45"/>
<circle cx="846.8" cy="615.8" r="4.45"/>
<circle cx="798.8" cy="528.8" r="4.45"/>
<circle cx="585.8" cy="324.8" r="4.45"/>
<circle cx="340.0" cy="365.9" r="4.45"/>
<circle cx="796.0" cy="665.8" r="4.45"/>
<circle cx="415.2" cy="562.7" r="4.45"/>
<circle cx="293.1" cy="469.3" r="4.45"/>
<circle cx="677.4" cy="524.1" r="4.45"/>
<circle cx="429.8" cy="368.4" r="4.45"/>
<circle cx="402.2" cy="457.0" r="4.45"/>
<circle cx="468.2" cy="473.0" r="4.45"/>
<circle cx="319.7" cy="400.6" r="4.45"/>
<circle cx="471.4" cy="584.3" r="4.45"/>
<circle cx="381.1" cy="469.3" r="4.45"/>
<circle cx="522.5" cy="425.5" r="4.45"/>
<circle cx="766.8" cy="559.7" r="4.45"/>
<circle cx="526.8" cy="406.3" r="4.45"/>
<circle cx="462.5" cy="423.4" r="4.45"/>
<circle cx="587.9" cy="462.8" r="4.45"/>
<circle cx="285.9" cy="465.9" r="4.45"/>
<circle cx="766.8" cy="543.7" r="4.45"/>
<circle cx="283.1" cy="459.0" r="4.45"/>
<circle cx="565.7" cy="521.1" r="4.45"/>
<circle cx="497.8" cy="478.6" r="4.45"/>
<circle cx="423.5" cy="426.1" r="4.45"/>
<circle cx="262.6" cy="496.9" r="4.45"/>
<circle cx="572.0" cy="574.6" r="4.45"/>
<circle cx="395.1" cy="597.7" r="4.45"/>
<circle cx="366.8" cy="494.2" r="4.45"/>
<circle cx="946.8" cy="460.8" r="4.45"/>
<circle cx="276.0" cy="358.4" r="4.45"/>
<circle cx="314.8" cy="407.8" r="4.45"/>
<circle cx="651.8" cy="370.8" r="4.45"/>
<circle cx="785.0" cy="565.7" r="4.45"/>
<circle cx="738.8" cy="358.8" r="4.45"/>
<circle cx="434.4" cy="411.3" r="4.45"/>
<circle cx="523.6" cy="447.3" r="4.45"/>
<circle cx="659.6" cy="580.0" r="4.45"/>
<circle cx="473.5" cy="431.7" r="4.45"/>
<circle cx="443.7" cy="491.2" r="4.45"/>
<circle cx="397.3" cy="307.6" r="4.45"/>
<circle cx="198.0" cy="501.8" r="4.45"/>
<circle cx="420.4" cy="314.7" r="4.45"/>
<circle cx="691.8" cy="611.7" r="4.45"/>
<circle cx="405.1" cy="394.0" r="4.45"/>
<circle cx="345.9" cy="378.4" r="4.45"/>
<circle cx="545.5" cy="386.8" r="4.45"/>
<circle cx="385.2" cy="356.2" r="4.45"/>
<circle cx="690.0" cy="407.5" r="4.45"/>
<circle cx="400.0" cy="270.8" r="4.45"/>
<circle cx="331.5" cy="431.0" r="4.45"/>
<circle cx="437.4" cy="418.2" r="4.45"/>
<circle cx="469.8" cy="351.2" r="4.45"/>
<circle cx="538.2" cy="536.1" r="4.45"/>
<circle cx="570.0" cy="399.1" r="4.45"/>
<circle cx="312.2" cy="370.6" r="4.45"/>
<circle cx="369.8" cy="553.3" r="4.45"/>
<circle cx="353.5" cy="477.4" r="4.45"/>
<circle cx="381.5" cy="344.3" r="4.45"/>
<circle cx="411.0" cy="466.6" r="4.45"/>
<circle cx="355.7" cy="533.5" r="4.45"/>
<circle cx="681.1" cy="553.6" r="4.45"/>
<circle cx="399.3" cy="510.8" r="4.45"/>
<circle cx="388.7" cy="598.8" r="4.45"/>
<circle cx="493.2" cy="611.7" r="4.45"/>
<circle cx="890.8" cy="719.8" r="4.45"/>
<circle cx="495.9" cy="345.1" r="4.45"/>
<circle cx="298.4" cy="545.1" r="4.45"/>
<circle cx="766.9" cy="597.9" r="4.45"/>
<circle cx="615.4" cy="458.0" r="4.45"/>
<circle cx="343.0" cy="271.2" r="4.45"/>
<circle cx="275.2" cy="527.9" r="4.45"/>
<circle cx="352.4" cy="306.4" r="4.45"/>
<circle cx="435.6" cy="344.7" r="4.45"/>
<circle cx="591.6" cy="487.4" r="4.45"/>
<circle cx="594.0" cy="501.5" r="4.45"/>
<circle cx="627.0" cy="313.5" r="4.45"/>
<circle cx="518.0" cy="409.9" r="4.45"/>
<circle cx="694.8" cy="360.8" r="4.45"/>
<circle cx="664.8" cy="737.8" r="4.45"/>
<circle cx="1091.8" cy="735.8" r="4.45"/>
<circle cx="462.6" cy="480.4" r="4.45"/>
<circle cx="862.5" cy="493.8" r="4.45"/>
<circle cx="522.8" cy="607.0" r="4.45"/>
<circle cx="330.3" cy="457.3" r="4.45"/>
<circle cx="732.5" cy="662.5" r="4.45"/>
<circle cx="607.9" cy="633.6" r="4.45"/>
<circle cx="423.5" cy="455.0" r="4.45"/>
<circle cx="345.3" cy="448.9" r="4.45"/>
<circle cx="562.9" cy="618.7" r="4.45"/>
<circle cx="315.5" cy="462.7" r="4.45"/>
<circle cx="749.9" cy="577.9" r="4.45"/>
<circle cx="745.8" cy="454.2" r="4.45"/>
<circle cx="497.1" cy="447.9" r="4.45"/>
<circle cx="608.1" cy="405.6" r="4.45"/>
<circle cx="536.2" cy="358.7" r="4.45"/>
<circle cx="519.0" cy="445.2" r="4.45"/>
<circle cx="444.2" cy="506.6" r="4.45"/>
<circle cx="635.5" cy="440.0" r="4.45"/>
<circle cx="614.7" cy="427.7" r="4.45"/>
<circle cx="622.5" cy="435.8" r="4.45"/>
<circle cx="560.0" cy="196.5" r="4.45"/>
<circle cx="321.8" cy="388.9" r="4.45"/>
<circle cx="590.9" cy="533.4" r="4.45"/>
<circle cx="409.4" cy="382.6" r="4.45"/>
<circle cx="355.2" cy="421.4" r="4.45"/>
<circle cx="379.2" cy="394.7" r="4.45"/>
<circle cx="433.0" cy="424.3" r="4.45"/>
<circle cx="324.2" cy="530.5" r="4.45"/>
<circle cx="338.5" cy="445.8" r="4.45"/>
<circle cx="404.0" cy="446.3" r="4.45"/>
<circle cx="429.7" cy="388.8" r="4.45"/>
<circle cx="379.4" cy="427.1" r="4.45"/>
<circle cx="906.8" cy="670.5" r="4.45"/>
<circle cx="427.3" cy="410.7" r="4.45"/>
<circle cx="759.9" cy="500.8" r="4.45"/>
<circle cx="376.6" cy="437.1" r="4.45"/>
<circle cx="384.4" cy="508.3" r="4.45"/>
<circle cx="512.3" cy="426.4" r="4.45"/>
<circle cx="588.8" cy="367.8" r="4.45"/>
<circle cx="542.6" cy="516.0" r="4.45"/>
<circle cx="471.3" cy="431.5" r="4.45"/>
<circle cx="499.3" cy="503.0" r="4.45"/>
<circle cx="400.9" cy="508.8" r="4.45"/>
<circle cx="503.4" cy="383.7" r="4.45"/>
<circle cx="451.8" cy="261.8" r="4.45"/>
<circle cx="432.1" cy="486.2" r="4.45"/>
<circle cx="531.7" cy="455.7" r="4.45"/>
<circle cx="338.4" cy="532.8" r="4.45"/>
<circle cx="441.7" cy="465.2" r="4.45"/>
<circle cx="337.3" cy="345.7" r="4.45"/>
<circle cx="529.1" cy="557.3" r="4.45"/>
<circle cx="375.0" cy="384.3" r="4.45"/>
<circle cx="442.8" cy="454.2" r="4.45"/>
<circle cx="337.1" cy="376.5" r="4.45"/>
<circle cx="465.3" cy="421.4" r="4.45"/>
<circle cx="344.4" cy="402.4" r="4.45"/>
<circle cx="770.1" cy="576.4" r="4.45"/>
<circle cx="574.9" cy="543.0" r="4.45"/>
<circle cx="619.8" cy="436.5" r="4.45"/>
<circle cx="691.0" cy="661.5" r="4.45"/>
<circle cx="335.4" cy="518.2" r="4.45"/>
<circle cx="568.8" cy="301.8" r="4.45"/>
<circle cx="811.0" cy="548.9" r="4.45"/>
<circle cx="446.4" cy="426.7" r="4.45"/>
<circle cx="476.0" cy="619.0" r="4.45"/>
<circle cx="493.9" cy="633.6" r="4.45"/>
<circle cx="365.2" cy="479.4" r="4.45"/>
<circle cx="275.9" cy="396.5" r="4.45"/>
<circle cx="418.5" cy="438.9" r="4.45"/>
<circle cx="457.5" cy="446.9" r="4.45"/>
<circle cx="571.7" cy="441.1" r="4.45"/>
<circle cx="437.8" cy="538.5" r="4.45"/>
<circle cx="270.6" cy="496.6" r="4.45"/>
<circle cx="370.2" cy="356.1" r="4.45"/>
<circle cx="963.8" cy="587.8" r="4.45"/>
<circle cx="326.7" cy="424.7" r="4.45"/>
<circle cx="745.0" cy="466.0" r="4.45"/>
<circle cx="475.3" cy="494.2" r="4.45"/>
<circle cx="399.6" cy="432.7" r="4.45"/>
<circle cx="435.1" cy="382.3" r="4.45"/>
<circle cx="622.1" cy="530.9" r="4.45"/>
<circle cx="361.6" cy="541.6" r="4.45"/>
<circle cx="503.0" cy="432.2" r="4.45"/>
<circle cx="411.3" cy="594.3" r="4.45"/>
<circle cx="370.7" cy="525.3" r="4.45"/>
<circle cx="160.0" cy="513.0" r="4.45"/>
<circle cx="469.0" cy="416.7" r="4.45"/>
<circle cx="428.7" cy="478.1" r="4.45"/>
<circle cx="466.4" cy="412.8" r="4.45"/>
<circle cx="770.8" cy="762.8" r="4.45"/>
<circle cx="455.4" cy="383.9" r="4.45"/>
<circle cx="462.8" cy="497.2" r="4.45"/>
<circle cx="468.4" cy="466.4" r="4.45"/>
<circle cx="373.3" cy="505.3" r="4.45"/>
<circle cx="655.7" cy="476.3" r="4.45"/>
<circle cx="319.4" cy="440.7" r="4.45"/>
<circle cx="417.8" cy="386.0" r="4.45"/>
<circle cx="535.0" cy="638.5" r="4.45"/>
<circle cx="435.0" cy="476.0" r="4.45"/>
<circle cx="377.1" cy="393.8" r="4.45"/>
<circle cx="329.5" cy="411.5" r="4.45"/>
<circle cx="461.1" cy="510.1" r="4.45"/>
<circle cx="516.5" cy="493.6" r="4.45"/>
<circle cx="394.5" cy="290.9" r="4.45"/>
<circle cx="381.0" cy="427.4" r="4.45"/>
<circle cx="721.8" cy="438.8" r="4.45"/>
<circle cx="465.6" cy="540.4" r="4.45"/>
<circle cx="473.1" cy="445.0" r="4.45"/>
<circle cx="282.0" cy="407.1" r="4.45"/>
<circle cx="448.0" cy="433.9" r="4.45"/>
<circle cx="422.4" cy="544.4" r="4.45"/>
<circle cx="445.7" cy="422.3" r="4.45"/>
<circle cx="623.6" cy="536.1" r="4.45"/>
<circle cx="446.7" cy="447.3" r="4.45"/>
<circle cx="443.8" cy="338.3" r="4.45"/>
<circle cx="370.7" cy="365.8" r="4.45"/>
<circle cx="650.0" cy="626.9" r="4.45"/>
<circle cx="478.3" cy="459.3" r="4.45"/>
<circle cx="317.7" cy="543.4" r="4.45"/>
<circle cx="435.2" cy="434.1" r="4.45"/>
<circle cx="413.7" cy="578.0" r="4.45"/>
<circle cx="418.5" cy="425.8" r="4.45"/>
<circle cx="345.7" cy="488.1" r="4.45"/>
<circle cx="532.8" cy="571.1" r="4.45"/>
<circle cx="374.0" cy="556.0" r="4.45"/>
<circle cx="282.7" cy="385.2" r="4.45"/>
<circle cx="485.4" cy="499.0" r="4.45"/>
<circle cx="549.2" cy="298.5" r="4.45"/>
<circle cx="317.9" cy="357.5" r="4.45"/>
<circle cx="487.4" cy="529.9" r="4.45"/>
<circle cx="401.8" cy="490.2" r="4.45"/>
<circle cx="288.2" cy="476.5" r="4.45"/>
<circle cx="797.0" cy="600.8" r="4.45"/>
<circle cx="418.8" cy="677.8" r="4.45"/>
<circle cx="347.7" cy="463.6" r="4.45"/>
<circle cx="348.7" cy="447.3" r="4.45"/>
<circle cx="378.0" cy="542.7" r="4.45"/>
<circle cx="375.3" cy="409.4" r="4.45"/>
<circle cx="461.4" cy="571.7" r="4.45"/>
<circle cx="494.8" cy="339.8" r="4.45"/>
<circle cx="598.0" cy="398.3" r="4.45"/>
<circle cx="461.8" cy="598.4" r="4.45"/>
<circle cx="710.6" cy="555.1" r="4.45"/>
<circle cx="493.3" cy="463.7" r="4.45"/>
<circle cx="734.0" cy="576.7" r="4.45"/>
<circle cx="334.3" cy="379.3" r="4.45"/>
<circle cx="768.9" cy="579.8" r="4.45"/>
<circle cx="348.0" cy="442.2" r="4.45"/>
<circle cx="456.7" cy="592.2" r="4.45"/>
<circle cx="473.7" cy="393.1" r="4.45"/>
<circle cx="553.7" cy="593.4" r="4.45"/>
<circle cx="775.9" cy="553.8" r="4.45"/>
<circle cx="538.7" cy="429.9" r="4.45"/>
<circle cx="628.6" cy="572.3" r="4.45"/>
<circle cx="418.1" cy="490.8" r="4.45"/>
<circle cx="400.7" cy="414.7" r="4.45"/>
<circle cx="704.0" cy="518.8" r="4.45"/>
<circle cx="535.4" cy="477.1" r="4.45"/>
<circle cx="489.1" cy="389.0" r="4.45"/>
<circle cx="610.5" cy="532.3" r="4.45"/>
<circle cx="505.8" cy="270.8" r="4.45"/>
<circle cx="634.2" cy="419.9" r="4.45"/>
<circle cx="377.8" cy="477.2" r="4.45"/>
<circle cx="760.0" cy="434.5" r="4.45"/>
<circle cx="790.8" cy="382.8" r="4.45"/>
<circle cx="856.8" cy="465.8" r="4.45"/>
<circle cx="435.1" cy="348.9" r="4.45"/>
<circle cx="428.0" cy="568.8" r="4.45"/>
<circle cx="264.8" cy="566.8" r="4.45"/>
<circle cx="471.5" cy="452.5" r="4.45"/>
<circle cx="750.8" cy="571.6" r="4.45"/>
<circle cx="598.6" cy="604.6" r="4.45"/>
<circle cx="410.2" cy="489.3" r="4.45"/>
<circle cx="316.9" cy="327.3" r="4.45"/>
<circle cx="510.6" cy="401.6" r="4.45"/>
<circle cx="590.7" cy="471.0" r="4.45"/>
<circle cx="548.8" cy="231.8" r="4.45"/>
<circle cx="295.1" cy="513.7" r="4.45"/>
<circle cx="650.7" cy="502.1" r="4.45"/>
<circle cx="537.1" cy="451.4" r="4.45"/>
<circle cx="431.2" cy="413.8" r="4.45"/>
<circle cx="550.7" cy="378.5" r="4.45"/>
<circle cx="338.8" cy="541.9" r="4.45"/>
<circle cx="675.9" cy="528.9" r="4.45"/>
<circle cx="757.8" cy="459.8" r="4.45"/>
<circle cx="405.7" cy="435.7" r="4.45"/>
<circle cx="269.8" cy="594.8" r="4.45"/>
<circle cx="765.8" cy="525.8" r="4.45"/>
<circle cx="430.9" cy="518.6" r="4.45"/>
<circle cx="457.3" cy="390.9" r="4.45"/>
<circle cx="399.3" cy="479.7" r="4.45"/>
<circle cx="344.3" cy="416.8" r="4.45"/>
<circle cx="540.0" cy="405.3" r="4.45"/>
<circle cx="655.6" cy="499.5" r="4.45"/>
<circle cx="403.4" cy="418.5" r="4.45"/>
<circle cx="467.0" cy="299.8" r="4.45"/>
<circle cx="385.4" cy="313.4" r="4.45"/>
<circle cx="817.8" cy="690.8" r="4.45"/>
<circle cx="268.9" cy="525.3" r="4.45"/>
<circle cx="496.1" cy="504.6" r="4.45"/>
<circle cx="422.5" cy="528.5" r="4.45"/>
<circle cx="404.3" cy="456.4" r="4.45"/>
<circle cx="320.8" cy="314.2" r="4.45"/>
</g>
<g fill="none" stroke="#3366ff" stroke-width="1.75" stroke-linejoin="round">
<path d="M228.2,462.5L228.8,456.5L229.7,450.6L230.5,444.7L231.5,438.7L232.5,432.8L233.7,426.9L235.0,421.1L236.5,415.3L238.2,409.5L240.0,403.8L241.9,398.1L243.9,392.4L246.1,386.8L248.4,381.3L250.9,375.9L253.7,370.5L256.6,365.3L259.8,360.2L263.0,355.1L266.2,350.1L269.6,345.1L272.9,340.1L276.4,335.2L279.9,330.3L283.4,325.5L286.9,320.6L290.5,315.8L294.1,311.0L297.7,306.2L301.4,301.4L305.1,296.7L308.8,292.0L312.7,287.4L317.0,283.3L321.8,279.7L327.0,276.7L332.5,274.2L338.0,271.8L343.5,269.6L349.2,267.7L355.1,266.4L361.0,265.4L367.0,264.7L372.9,264.1L378.9,263.6L384.9,263.2L390.9,263.0L396.9,263.1L402.9,263.6L408.9,264.1L414.8,264.7L420.8,265.4L426.8,266.1L432.7,266.9L438.7,267.7L444.6,268.6L450.5,269.6L456.4,270.6L462.3,271.6L468.3,272.6L474.2,273.5L480.1,274.4L486.0,275.3L492.0,276.2L497.9,277.2L503.8,278.1L509.7,279.2L515.6,280.5L521.4,282.1L527.1,283.8L532.9,285.5L538.7,287.1L544.4,288.8L550.2,290.6L555.9,292.4L561.5,294.5L567.0,296.9L572.3,299.6L577.5,302.7L582.4,306.1L587.1,309.9L591.2,314.3L594.3,319.4L596.4,325.0L597.7,330.9L598.4,336.8L599.1,342.8L600.0,348.7L601.5,354.5L604.0,360.0L607.5,364.8L611.6,369.2L616.1,373.2L620.9,376.7L626.1,379.9L631.4,382.5L636.9,384.9L642.5,387.1L648.1,389.2L653.8,391.3L659.4,393.4L664.9,395.7L670.4,398.2L675.7,400.9L681.0,403.8L686.1,406.9L691.1,410.3L695.9,413.8L700.6,417.7L705.0,421.7L709.4,425.8L713.7,430.0L717.8,434.4L721.8,438.8L725.5,443.5L728.9,448.5L731.8,453.8L734.4,459.2L737.3,464.4L740.6,469.4L744.3,474.1L748.5,478.4L753.2,482.2L758.2,485.5L763.4,488.5L768.8,491.2L774.3,493.6L779.8,495.9L785.3,498.4L790.7,500.9L796.1,503.6L801.4,506.4L806.6,509.3L811.8,512.3L816.9,515.6L821.5,519.3L825.6,523.7L828.8,528.8L831.0,534.3L832.4,540.2L832.8,546.2L832.3,552.1L831.3,558.0L830.0,563.9L828.2,569.6L825.8,575.1L823.0,580.4L819.8,585.5L816.3,590.3L812.5,595.0L808.6,599.6L804.5,604.0L800.3,608.3L796.0,612.5L791.8,616.8L787.8,621.2L784.1,625.9L780.9,631.0L778.1,636.3L774.8,641.3L771.1,646.0L767.0,650.4L762.4,654.3L757.5,657.7L752.2,660.6L746.9,663.3L741.4,665.7L735.8,667.9L730.1,669.9L724.4,671.6L718.5,672.9L712.6,673.7L706.6,674.1L700.6,673.7L694.7,672.6L689.0,670.8L683.5,668.4L678.4,665.3L673.5,661.8L668.7,658.2L663.8,654.7L658.7,651.6L653.2,649.2L647.5,647.4L641.6,646.0L635.7,644.9L629.8,644.2L623.8,643.6L617.8,643.1L611.8,642.8L605.8,642.5L599.8,642.4L593.8,642.4L587.8,642.4L581.8,642.6L575.8,642.7L569.8,643.0L563.8,643.2L557.8,643.3L551.8,643.4L545.8,643.5L539.8,643.5L533.8,643.5L527.8,643.6L521.8,643.5L515.8,643.4L509.8,643.1L503.8,642.7L497.8,642.6L491.8,642.7L485.8,642.9L479.8,643.1L473.8,643.2L467.8,643.3L461.8,643.3L455.8,643.3L449.8,643.2L443.8,642.8L437.9,641.9L432.1,640.5L426.4,638.7L420.8,636.5L415.4,633.8L410.2,630.9L405.1,627.7L400.1,624.3L395.2,620.8L390.4,617.2L385.7,613.5L381.2,609.6L376.9,605.4L372.9,601.0L368.8,596.5L364.5,592.4L359.9,588.6L354.9,585.1L349.7,582.2L344.3,579.7L338.6,577.7L332.8,576.2L326.9,575.0L321.0,573.9L315.1,573.0L309.1,572.3L303.1,571.6L297.2,571.0L291.2,570.6L285.2,570.1L279.3,569.3L273.4,568.2L267.6,566.7L262.0,564.5L256.6,561.8L251.6,558.6L246.7,555.0L242.2,551.0L238.0,546.7L234.2,542.1L230.7,537.3L227.5,532.2L224.8,526.8L222.6,521.2L221.1,515.4L220.2,509.5L220.0,503.5L220.7,497.6L222.1,491.7L223.9,486.0L225.6,480.2L227.1,474.4L227.9,468.5Z"/>
<path d="M255.4,462.5L256.0,456.5L256.4,450.6L256.9,444.6L257.4,438.6L258.0,432.7L258.8,426.7L259.8,420.8L261.1,415.0L262.7,409.2L264.4,403.5L266.2,397.8L268.2,392.1L270.2,386.5L272.4,380.9L274.8,375.4L277.4,370.0L280.1,364.7L283.0,359.5L286.1,354.3L289.3,349.3L292.7,344.3L296.2,339.5L299.8,334.7L303.6,330.1L307.6,325.6L311.7,321.3L316.0,317.1L320.5,313.1L325.0,309.2L329.6,305.4L334.3,301.6L339.1,298.0L344.0,294.7L349.3,291.8L354.9,289.6L360.6,288.0L366.5,286.7L372.4,285.7L378.3,285.2L384.3,285.2L390.3,285.5L396.2,286.1L402.2,287.0L408.0,288.2L413.9,289.5L419.7,291.0L425.4,292.6L431.2,294.3L436.9,296.1L442.6,298.0L448.2,299.9L453.9,301.9L459.5,304.0L465.1,306.1L470.7,308.3L476.2,310.5L481.8,312.8L487.3,315.1L492.8,317.5L498.3,319.8L503.8,322.3L509.2,324.7L514.7,327.2L520.1,329.7L525.5,332.3L530.6,335.4L535.4,339.0L540.0,342.9L544.3,347.0L548.6,351.2L552.7,355.5L556.8,359.9L560.8,364.3L564.9,368.8L569.0,373.1L573.2,377.4L577.4,381.6L581.9,385.6L586.5,389.4L591.3,393.0L596.3,396.3L601.4,399.5L606.5,402.5L611.8,405.3L617.1,408.1L622.5,410.7L627.8,413.4L633.1,416.2L638.4,419.1L643.5,422.2L648.4,425.7L652.9,429.6L657.2,433.8L661.0,438.4L664.0,443.5L665.9,449.2L666.7,455.1L667.2,461.1L667.6,467.1L668.4,473.0L669.6,478.9L671.2,484.6L673.1,490.3L675.4,495.9L678.0,501.2L680.9,506.5L684.0,511.6L687.1,516.7L690.3,521.8L693.7,526.7L697.4,531.4L701.4,535.9L705.4,540.3L709.1,545.0L712.0,550.3L713.6,556.0L712.9,561.9L709.9,567.1L705.7,571.2L701.0,575.0L696.3,578.7L691.5,582.3L686.6,585.8L681.6,589.0L676.4,592.0L671.1,594.9L665.7,597.4L660.1,599.6L654.5,601.4L648.7,603.0L642.8,604.3L637.0,605.4L631.0,606.2L625.1,606.7L619.1,607.1L613.1,607.3L607.1,607.5L601.1,607.5L595.1,607.6L589.2,607.5L583.2,607.5L577.2,607.5L571.2,607.6L565.2,607.7L559.2,607.8L553.2,607.9L547.2,608.0L541.3,608.1L535.3,608.3L529.3,608.4L523.3,608.6L517.3,608.7L511.3,608.8L505.3,608.9L499.4,609.0L493.4,609.2L487.4,609.4L481.4,609.5L475.4,609.5L469.4,609.3L463.4,609.1L457.5,608.7L451.5,608.1L445.6,607.3L439.7,606.2L433.9,604.8L428.2,602.9L422.7,600.5L417.5,597.6L412.5,594.3L407.8,590.6L403.2,586.8L398.6,583.0L393.9,579.2L389.0,575.7L384.0,572.5L378.8,569.5L373.4,566.9L367.9,564.6L362.3,562.5L356.6,560.6L350.9,558.9L345.1,557.3L339.3,556.0L333.4,554.7L327.5,553.6L321.6,552.5L315.8,551.4L309.9,550.1L304.1,548.7L298.3,547.2L292.6,545.3L287.0,543.2L281.6,540.8L276.3,537.9L271.4,534.4L266.9,530.5L263.0,526.0L259.6,521.1L256.8,515.7L254.9,510.1L253.7,504.2L253.0,498.3L252.8,492.3L253.0,486.3L253.4,480.3L254.0,474.4L254.7,468.4Z"/>
<path d="M275.4,462.5L275.3,456.5L275.1,450.5L274.9,444.5L274.8,438.5L274.8,432.5L275.1,426.5L275.8,420.6L277.0,414.7L278.5,408.9L280.2,403.2L282.2,397.5L284.4,391.9L286.7,386.4L289.4,381.0L292.2,375.7L295.2,370.5L298.5,365.5L301.9,360.5L305.4,355.7L309.2,351.1L313.1,346.5L317.2,342.1L321.4,337.9L325.7,333.7L330.1,329.5L334.5,325.5L339.1,321.7L343.9,318.1L348.9,314.8L354.1,311.8L359.5,309.2L365.1,307.1L370.9,305.6L376.8,304.5L382.8,304.0L388.8,303.9L394.8,304.4L400.7,305.4L406.5,306.9L412.2,308.8L417.7,311.0L423.2,313.4L428.7,315.8L434.2,318.3L439.7,320.7L445.1,323.2L450.6,325.7L456.0,328.2L461.4,330.8L466.9,333.4L472.2,336.0L477.6,338.7L483.0,341.3L488.4,344.0L493.7,346.7L499.0,349.5L504.2,352.5L509.3,355.6L514.4,358.9L519.5,362.0L524.6,365.1L529.5,368.6L534.1,372.4L538.6,376.5L542.9,380.6L547.1,384.9L551.4,389.1L555.7,393.3L560.1,397.3L564.6,401.2L569.4,404.8L574.4,408.2L579.4,411.5L584.3,415.0L589.1,418.5L593.9,422.1L598.8,425.7L603.6,429.2L608.4,432.8L612.8,436.9L616.6,441.5L619.6,446.7L621.8,452.3L623.5,458.0L624.8,463.9L626.2,469.7L628.1,475.4L630.4,480.9L632.9,486.4L635.6,491.7L638.3,497.1L641.1,502.4L643.7,507.8L646.2,513.3L648.2,518.9L649.7,524.7L650.5,530.6L650.4,536.6L649.4,542.5L647.4,548.2L644.3,553.3L640.1,557.6L635.3,561.1L630.0,564.0L624.5,566.3L618.7,568.0L612.8,569.1L606.9,569.9L600.9,570.5L595.0,571.1L589.0,571.7L583.0,572.3L577.1,573.0L571.1,573.8L565.2,574.9L559.4,576.2L553.5,577.6L547.7,578.9L541.8,580.2L536.0,581.5L530.1,582.6L524.2,583.6L518.2,584.3L512.2,584.7L506.2,585.0L500.2,585.1L494.2,585.2L488.2,585.1L482.3,584.9L476.3,584.5L470.3,584.0L464.4,583.2L458.5,582.0L452.7,580.5L447.0,578.7L441.3,576.7L435.7,574.6L430.2,572.2L424.7,569.7L419.4,567.0L414.2,564.0L409.0,561.0L403.7,558.2L398.3,555.6L392.8,553.2L387.3,550.9L381.6,548.9L375.9,547.0L370.2,545.3L364.4,543.7L358.6,542.2L352.7,540.8L346.9,539.5L341.0,538.3L335.2,537.0L329.3,535.6L323.5,534.2L317.8,532.5L312.1,530.5L306.6,528.2L301.2,525.5L296.1,522.3L291.4,518.6L287.4,514.2L284.1,509.2L281.6,503.7L279.6,498.1L278.1,492.3L276.9,486.4L276.0,480.4L275.4,474.5L275.3,468.5Z"/>
<path d="M293.0,462.5L292.1,456.6L291.4,450.6L290.9,444.6L290.5,438.6L290.5,432.6L290.9,426.7L291.8,420.7L293.0,414.9L294.6,409.1L296.4,403.4L298.4,397.7L300.7,392.2L303.2,386.7L306.1,381.4L309.3,376.3L312.8,371.5L316.5,366.8L320.5,362.3L324.6,357.9L328.8,353.7L333.1,349.5L337.6,345.5L342.3,341.7L347.1,338.1L351.9,334.6L357.0,331.4L362.2,328.4L367.7,326.0L373.5,324.4L379.4,323.5L385.4,323.1L391.4,323.3L397.3,324.0L403.2,325.2L409.0,326.9L414.6,329.1L420.0,331.5L425.5,334.1L430.9,336.7L436.3,339.3L441.7,341.9L447.1,344.5L452.5,347.1L457.8,349.8L463.1,352.6L468.3,355.6L473.5,358.7L478.5,362.0L483.5,365.4L488.4,368.8L493.3,372.2L498.4,375.5L503.5,378.6L508.6,381.7L513.7,384.9L518.4,388.6L522.7,392.7L526.8,397.2L530.7,401.7L534.8,406.0L539.3,410.1L543.9,413.9L548.6,417.7L553.1,421.6L557.6,425.6L562.0,429.7L566.3,433.9L570.3,438.3L574.0,443.0L577.2,448.1L579.7,453.6L581.7,459.2L584.0,464.7L586.6,470.1L588.8,475.7L590.9,481.3L593.5,486.7L596.6,491.9L599.8,497.0L602.9,502.1L605.6,507.4L607.5,513.1L608.5,519.0L608.2,525.0L606.2,530.6L602.7,535.5L597.9,539.0L592.4,541.3L586.6,542.8L580.7,544.0L574.8,545.1L568.9,546.2L563.0,547.2L557.1,548.3L551.2,549.5L545.4,550.8L539.6,552.3L533.7,553.8L527.8,554.8L521.9,555.4L515.9,555.7L509.9,555.8L503.9,555.7L497.9,555.7L491.9,555.5L485.9,555.3L479.9,554.9L473.9,554.3L468.0,553.4L462.1,552.5L456.2,551.4L450.3,550.3L444.4,549.1L438.5,547.8L432.7,546.2L427.0,544.4L421.4,542.3L415.8,540.1L410.3,537.7L404.9,535.0L399.6,532.3L394.2,529.7L388.8,527.1L383.3,524.7L377.8,522.4L372.1,520.5L366.3,518.8L360.5,517.5L354.6,516.2L348.7,515.2L342.8,514.1L336.9,512.8L331.2,511.1L325.6,508.9L320.2,506.3L315.0,503.2L310.2,499.7L305.9,495.5L302.2,490.8L299.2,485.6L297.0,480.0L295.4,474.3L294.2,468.4Z"/>
<path d="M317.5,467.5L314.5,462.3L311.7,457.0L309.5,451.4L307.9,445.6L306.9,439.7L306.4,433.7L306.3,427.7L306.7,421.7L307.4,415.7L308.6,409.8L310.1,404.0L312.0,398.3L314.4,392.8L317.1,387.5L320.2,382.3L323.5,377.3L327.1,372.5L331.1,368.0L335.3,363.7L339.7,359.6L344.3,355.7L349.1,352.2L354.2,349.0L359.6,346.4L365.2,344.2L371.0,342.6L376.9,341.7L382.9,341.5L388.9,341.8L394.9,342.7L400.7,344.1L406.5,345.7L412.2,347.6L417.9,349.6L423.4,351.9L428.9,354.3L434.4,356.8L439.8,359.3L445.2,362.1L450.5,364.9L455.6,368.0L460.6,371.4L465.4,375.0L470.1,378.7L474.7,382.6L479.1,386.6L483.4,390.8L487.6,395.1L491.9,399.3L496.4,403.4L500.9,407.3L505.5,411.2L510.1,415.1L514.7,418.9L519.4,422.6L524.2,426.2L528.9,430.0L533.4,434.0L537.6,438.3L541.4,443.0L544.8,447.9L547.7,453.2L549.7,458.8L550.5,464.7L549.4,470.6L546.6,475.9L542.8,480.5L538.2,484.4L533.2,487.7L527.8,490.4L522.3,492.8L516.7,494.9L511.1,497.1L505.7,499.8L500.5,502.8L495.5,506.1L490.4,509.3L485.4,512.6L480.2,515.7L475.0,518.6L469.4,520.9L463.7,522.6L457.7,523.5L451.7,523.8L445.7,523.6L439.8,522.7L434.0,521.2L428.4,519.0L423.1,516.1L418.2,512.7L413.5,509.0L408.7,505.3L404.0,501.6L399.2,498.0L394.2,494.7L389.0,491.7L383.5,489.1L377.9,487.0L372.1,485.5L366.2,484.4L360.2,483.5L354.3,482.8L348.3,482.2L342.3,481.5L336.4,480.6L330.6,479.2L325.2,476.6L320.8,472.5Z"/>
<path d="M321.9,426.3L323.1,420.4L324.6,414.6L326.4,408.8L328.7,403.2L331.5,397.9L334.9,393.0L338.9,388.5L343.2,384.3L347.7,380.3L352.4,376.5L357.3,373.1L362.6,370.2L368.1,367.8L373.9,366.2L379.8,365.2L385.8,364.9L391.8,365.2L397.8,366.0L403.7,367.0L409.6,368.3L415.4,369.8L421.2,371.4L427.0,373.1L432.7,375.0L438.3,377.1L443.8,379.5L449.2,382.2L454.5,385.1L459.7,388.1L464.7,391.4L469.6,394.9L474.2,398.7L478.6,402.9L482.7,407.3L486.8,411.7L490.8,416.2L494.7,420.7L498.6,425.3L502.5,429.9L506.5,434.4L510.4,439.0L513.9,443.9L516.4,449.3L517.2,455.2L515.9,461.1L512.9,466.3L508.8,470.7L504.0,474.3L498.9,477.5L493.7,480.5L488.4,483.4L483.1,486.2L477.7,488.8L472.2,491.2L466.5,493.3L460.7,494.7L454.7,495.3L448.7,495.5L442.7,495.3L436.7,494.6L431.0,492.8L425.6,490.2L420.5,486.9L415.6,483.5L410.5,480.2L405.2,477.4L399.7,475.0L394.0,473.0L388.3,471.2L382.5,469.5L376.7,468.0L370.9,466.7L365.0,465.5L359.0,464.4L353.1,463.2L347.3,461.6L341.7,459.7L336.2,457.1L331.4,453.5L327.5,449.0L324.4,443.8L322.3,438.2L321.4,432.3Z"/>
<path d="M342.7,422.5L343.9,416.6L345.9,410.9L349.1,405.8L353.6,401.7L358.6,398.4L364.0,395.5L369.5,393.2L375.3,391.2L381.1,389.7L387.1,388.6L393.1,388.2L399.1,388.2L405.2,388.6L411.2,389.1L417.2,389.8L423.1,390.9L429.0,392.5L434.6,394.8L439.9,397.6L445.0,400.9L449.6,404.7L453.7,409.2L457.2,414.1L460.5,419.2L463.8,424.3L467.2,429.3L470.6,434.3L473.4,439.6L475.3,445.4L476.0,451.3L474.9,457.2L471.4,462.2L466.4,465.5L460.7,467.4L454.7,468.4L448.7,468.5L442.8,467.4L437.0,465.6L431.3,463.5L425.8,461.1L420.1,458.9L414.3,457.1L408.5,455.7L402.6,454.3L396.7,453.1L390.7,452.0L384.8,451.0L378.8,449.7L372.9,448.3L367.1,446.7L361.5,444.4L356.4,441.3L351.6,437.5L347.2,433.3L343.8,428.4Z"/>
<path d="M385.8,421.2L389.7,416.7L395.2,414.0L401.1,412.8L407.2,412.6L413.1,413.6L418.8,415.6L423.9,419.0L427.8,423.6L428.1,429.4L423.5,433.0L417.5,433.7L411.4,433.6L405.4,433.0L399.5,431.6L393.8,429.4L388.7,426.2Z"/>
</g>
<rect x="114.3" y="141.0" width="1024.2" height="703.8" fill="none" stroke="#333" stroke-width="2"/>
<g stroke="#333" stroke-width="3.2">
<line x1="302.40" x2="302.40" y1="844.8" y2="854.4"/>
<line x1="590.00" x2="590.00" y1="844.8" y2="854.4"/>
<line x1="877.60" x2="877.60" y1="844.8" y2="854.4"/>
<line y1="215.45" y2="215.45" x1="103.3" x2="114.3"/>
<line y1="426.30" y2="426.30" x1="103.3" x2="114.3"/>
<line y1="637.15" y2="637.15" x1="103.3" x2="114.3"/>
</g>
<g fill="#4d4d4d" font-size="32">
<text x="302.40" y="888" text-anchor="middle">0</text>
<text x="590.00" y="888" text-anchor="middle">10</text>
<text x="877.60" y="888" text-anchor="middle">20</text>
<text x="94.8" y="226.95" text-anchor="end">5</text>
<text x="94.8" y="437.80" text-anchor="end">0</text>
<text x="94.8" y="648.65" text-anchor="end">-5</text>
</g>
<text x="626.5" y="933.8" font-size="40" text-anchor="middle" fill="#000">V1</text>
<text transform="translate(48.6,494) rotate(-90)" font-size="40" text-anchor="middle" fill="#000">V2</text>
<g fill="#595959" stroke="#000" stroke-width="1.85" stroke-linejoin="miter">
<rect x="160.20" y="131.90" width="32.14" height="2.20"/>
<rect x="192.34" y="132.90" width="32.14" height="1.20"/>
<rect x="224.48" y="121.00" width="32.14" height="13.10"/>
<rect x="256.62" y="107.00" width="32.14" height="27.10"/>
<rect x="288.76" y="80.00" width="32.14" height="54.10"/>
<rect x="320.90" y="31.00" width="32.14" height="103.10"/>
<rect x="353.04" y="45.00" width="32.14" height="89.10"/>
<rect x="385.18" y="38.00" width="32.14" height="96.10"/>
<rect x="417.32" y="6.00" width="32.14" height="128.10"/>
<rect x="449.46" y="21.00" width="32.14" height="113.10"/>
<rect x="481.60" y="69.75" width="32.14" height="64.35"/>
<rect x="513.74" y="38.75" width="32.14" height="95.35"/>
<rect x="545.88" y="69.75" width="32.14" height="64.35"/>
<rect x="578.02" y="80.75" width="32.14" height="53.35"/>
<rect x="610.16" y="85.00" width="32.14" height="49.10"/>
<rect x="642.30" y="96.50" width="32.14" height="37.60"/>
<rect x="674.44" y="95.75" width="32.14" height="38.35"/>
<rect x="706.58" y="117.50" width="32.14" height="16.60"/>
<rect x="738.72" y="102.00" width="32.14" height="32.10"/>
<rect x="770.86" y="112.75" width="32.14" height="21.35"/>
<rect x="803.00" y="122.75" width="32.14" height="11.35"/>
<rect x="835.14" y="123.75" width="32.14" height="10.35"/>
<rect x="867.28" y="126.75" width="32.14" height="7.35"/>
<rect x="899.42" y="125.75" width="32.14" height="8.35"/>
<rect x="931.56" y="131.00" width="32.14" height="3.10"/>
<rect x="963.70" y="131.00" width="32.14" height="3.10"/>
<rect x="995.84" y="132.00" width="32.14" height="2.10"/>
<rect x="1027.98" y="132.00" width="32.14" height="2.10"/>
<rect x="1060.12" y="133.20" width="32.14" height="0.90"/>
</g>
<g fill="#595959" stroke="#000" stroke-width="1.85" stroke-linejoin="miter">
<rect x="1148.05" y="172.20" width="1.95" height="22.07"/>
<rect x="1148.05" y="194.27" width="1.95" height="22.07"/>
<rect x="1148.05" y="216.34" width="4.05" height="22.07"/>
<rect x="1148.05" y="238.41" width="1.95" height="22.07"/>
<rect x="1148.05" y="260.48" width="19.20" height="22.07"/>
<rect x="1148.05" y="282.55" width="36.20" height="22.07"/>
<rect x="1148.05" y="304.62" width="61.20" height="22.07"/>
<rect x="1148.05" y="326.69" width="65.20" height="22.07"/>
<rect x="1148.05" y="348.76" width="90.20" height="22.07"/>
<rect x="1148.05" y="370.83" width="125.45" height="22.07"/>
<rect x="1148.05" y="392.90" width="140.20" height="22.07"/>
<rect x="1148.05" y="414.97" width="173.20" height="22.07"/>
<rect x="1148.05" y="437.04" width="186.45" height="22.07"/>
<rect x="1148.05" y="459.11" width="159.20" height="22.07"/>
<rect x="1148.05" y="481.18" width="137.95" height="22.07"/>
<rect x="1148.05" y="503.25" width="155.20" height="22.07"/>
<rect x="1148.05" y="525.32" width="154.20" height="22.07"/>
<rect x="1148.05" y="547.39" width="100.20" height="22.07"/>
<rect x="1148.05" y="569.46" width="96.20" height="22.07"/>
<rect x="1148.05" y="591.53" width="52.20" height="22.07"/>
<rect x="1148.05" y="613.60" width="48.20" height="22.07"/>
<rect x="1148.05" y="635.67" width="38.20" height="22.07"/>
<rect x="1148.05" y="657.74" width="34.20" height="22.07"/>
<rect x="1148.05" y="679.81" width="10.95" height="22.07"/>
<rect x="1148.05" y="701.88" width="13.20" height="22.07"/>
<rect x="1148.05" y="723.95" width="3.95" height="22.07"/>
<rect x="1148.05" y="746.02" width="6.20" height="22.07"/>
<rect x="1148.05" y="768.09" width="1.95" height="22.07"/>
<rect x="1148.05" y="790.16" width="1.95" height="22.07"/>
</g>
</svg></body></html>
